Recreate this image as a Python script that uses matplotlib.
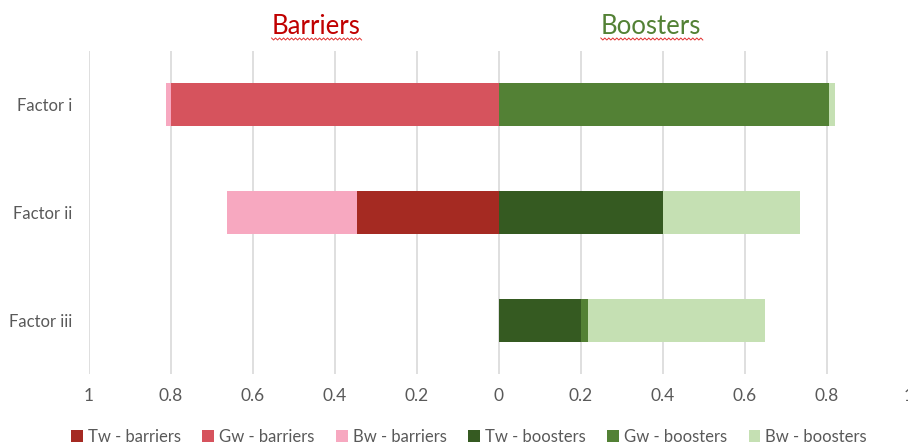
import matplotlib.pyplot as plt
import numpy as np
from matplotlib.ticker import FuncFormatter

plt.rcParams['font.family'] = ['Lato', 'DejaVu Sans']

factors = ['Factor i', 'Factor ii', 'Factor iii']

# shares per factor, barriers are plotted to the left of zero
tw_barriers = [0.0, 0.346, 0.0]
gw_barriers = [0.800, 0.0, 0.0]
bw_barriers = [0.012, 0.317, 0.0]
tw_boosters = [0.0, 0.400, 0.200]
gw_boosters = [0.805, 0.0, 0.017]
bw_boosters = [0.015, 0.334, 0.432]

legend_labels = ['Tw - barriers', 'Gw - barriers', 'Bw - barriers',
                 'Tw - boosters', 'Gw - boosters', 'Bw - boosters']
colors = ['#A52A22', '#D6535D', '#F7A8C0', '#355A21', '#538135', '#C5E0B3']

grey = '#595959'

fig = plt.figure(figsize=(9.08, 4.45), dpi=100)
ax = fig.add_axes([89/908, 1 - 374/445, 820/908, 323/445])

y = np.arange(len(factors))
h = 0.4

# barriers, stacked outward to the left
left = np.zeros(len(factors))
handles = []
for vals, c in zip([tw_barriers, gw_barriers, bw_barriers], colors[:3]):
    v = -np.array(vals)
    handles.append(ax.barh(y, v, left=left, height=h, color=c, linewidth=0))
    left = left + v

# boosters, stacked outward to the right
left = np.zeros(len(factors))
for vals, c in zip([tw_boosters, gw_boosters, bw_boosters], colors[3:]):
    v = np.array(vals)
    handles.append(ax.barh(y, v, left=left, height=h, color=c, linewidth=0))
    left = left + v

ax.set_xlim(-1, 1)
ax.set_ylim(2.5, -0.5)
ax.set_xticks(np.arange(-1, 1.01, 0.2))
ax.xaxis.set_major_formatter(FuncFormatter(lambda x, p: ('%.1f' % abs(x)).rstrip('0').rstrip('.') if abs(x) > 1e-9 else '0'))
ax.set_yticks(y)
ax.set_yticklabels(factors)
ax.grid(axis='x', color='#D9D9D9', linewidth=1.2)
ax.set_axisbelow(True)
for s in ax.spines.values():
    s.set_visible(False)
ax.tick_params(axis='both', length=0, colors=grey, labelsize=12.5)
ax.tick_params(axis='y', labelsize=12)
ax.tick_params(axis='x', pad=10)
ax.tick_params(axis='y', pad=12)

# section headings with their wavy underline
for txt, xc, col in [('Barriers', 316, '#C00000'), ('Boosters', 651, '#538135')]:
    t = fig.text(xc/908, 1 - 27/445, txt, color=col, fontsize=18.5,
                 ha='center', va='center')
fig.canvas.draw()
r = fig.canvas.get_renderer()
for t in fig.texts:
    bb = t.get_window_extent(r)
    xs = np.arange(bb.x0, bb.x1 + 2, 2.0)
    ys = (445 - 39) + np.where(np.arange(len(xs)) % 2 == 0, 1.0, -1.0)
    fig.add_artist(plt.Line2D(xs/908, ys/445, color='#E03030', linewidth=0.7,
                              transform=fig.transFigure))

fig.legend(handles, legend_labels, loc='center', ncol=6,
           bbox_to_anchor=(469/908, 1 - 437/445), frameon=False,
           fontsize=12, labelcolor=grey, handlelength=0.7, handleheight=0.7,
           handletextpad=0.3, columnspacing=1.3)

fig.savefig('out.png', dpi=100)
